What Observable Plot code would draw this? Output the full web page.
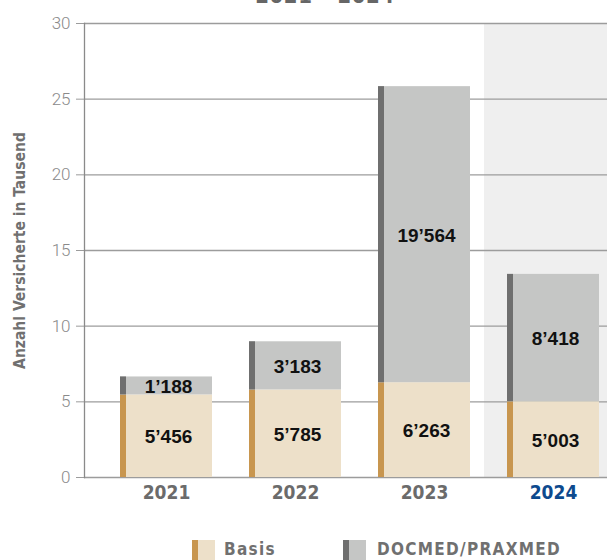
<!DOCTYPE html>
<html>
<head>
<meta charset="utf-8">
<script src="https://cdn.jsdelivr.net/npm/d3@7"></script>
<script src="https://cdn.jsdelivr.net/npm/@observablehq/plot@0.6"></script>
<style>
  html, body { margin: 0; padding: 0; background: #fff; }
  #wrap { position: relative; width: 607px; height: 560px; overflow: hidden; }
  #title { position: absolute; left: 0; width: 650px; top: -17px; text-align: center;
    font: bold 22px "Liberation Sans Narrow", "DejaVu Sans Condensed", sans-serif; color: #666; letter-spacing: 0.5px; }
  #chart { position: absolute; left: 0; top: 0; }
  .leg { position: absolute; top: 540px; height: 24px; display: flex; align-items: flex-start; }
  .sw { display: inline-block; width: 23px; height: 24px; }
  .lt { position: absolute; top: 539px; font: bold 17px "Liberation Sans Narrow", "DejaVu Sans Condensed", sans-serif;
    color: #707070; letter-spacing: 1.3px; }
</style>
</head>
<body>
<div id="wrap">
  <div id="title">2021 – 2024</div>
  <div id="chart"></div>
  <div class="leg" style="left:192px"><span class="sw" style="background:linear-gradient(to right,#c8964f 0 6px,#ede0c9 6px)"></span></div>
  <div class="lt" style="left:224px">Basis</div>
  <div class="leg" style="left:343px"><span class="sw" style="background:linear-gradient(to right,#6f6f6f 0 6px,#c5c6c5 6px)"></span></div>
  <div class="lt" style="left:377px">DOCMED/PRAXMED</div>
</div>
<script>
const years = ["2021", "2022", "2023", "2024"];
const basis = [5.456, 5.785, 6.263, 5.003];
const docmed = [1.188, 3.183, 19.564, 8.418];
const basisLabels = ["5’456", "5’785", "6’263", "5’003"];
const docmedLabels = ["1’188", "3’183", "19’564", "8’418"];
const yTicks = [0, 5, 10, 15, 20, 25, 30];
const highlightYear = "2024";
const yLabel = "Anzahl Versicherte in Tausend";

const rowsBasis = years.map((y, i) => ({year: y, y1: 0, y2: basis[i], label: basisLabels[i]}));
const rowsDoc = years.map((y, i) => ({year: y, y1: basis[i], y2: basis[i] + docmed[i], label: docmedLabels[i]}));

const numFont = '"Liberation Sans", Arial, sans-serif';
const narrow = '"Liberation Sans Narrow", "DejaVu Sans Condensed", sans-serif';

const stripInset = 86;

const chart = Plot.plot({
  width: 607,
  height: 520,
  marginTop: 23,
  marginBottom: 43,
  marginLeft: 84,
  marginRight: 0,
  style: {background: "transparent", overflow: "visible"},
  x: {type: "band", domain: years, range: [119, 599], paddingInner: 0.289, paddingOuter: 0, axis: null},
  y: {domain: [0, 30], axis: null},
  marks: [
    Plot.barY([highlightYear], {x: d => d, y1: 0, y2: 30, fill: "#efefef", insetLeft: -23, insetRight: -40}),
    Plot.ruleY(yTicks, {stroke: "#9c9c9c", strokeWidth: 1.3}),
    Plot.axisY({ticks: yTicks, tickSize: 8, tickPadding: 6, stroke: "#9c9c9c", label: null,
      fontSize: 17, fontFamily: "Roboto, 'Liberation Sans', sans-serif", fontWeight: 300, fill: "#8a8a8a", color: "#8a8a8a"}),
    Plot.frame({anchor: "left", stroke: "#8a8a8a", strokeWidth: 1.3}),
    Plot.barY(rowsBasis, {x: "year", y1: "y1", y2: "y2", fill: "#ede0c9"}),
    Plot.barY(rowsBasis, {x: "year", y1: "y1", y2: "y2", fill: "#c8964f", insetRight: stripInset}),
    Plot.barY(rowsDoc, {x: "year", y1: "y1", y2: "y2", fill: "#c5c6c5"}),
    Plot.barY(rowsDoc, {x: "year", y1: "y1", y2: "y2", fill: "#6f6f6f", insetRight: stripInset}),
    Plot.text(rowsBasis, {x: "year", y: d => (d.y1 + d.y2) / 2, text: "label", dx: 2, dy: 1,
      fontSize: 19, fontWeight: "bold", fontFamily: numFont, fill: "#111"}),
    Plot.text(rowsDoc, {x: "year", y: d => (d.y1 + d.y2) / 2, text: "label", dx: 2, dy: 1,
      fontSize: 19, fontWeight: "bold", fontFamily: numFont, fill: "#111"}),
    Plot.text(years.filter(y => y !== highlightYear), {x: d => d, frameAnchor: "bottom", dy: 21, text: d => d,
      fontSize: 19, fontWeight: "bold", fontFamily: narrow, fill: "#6b6b6b"}),
    Plot.text([highlightYear], {x: d => d, frameAnchor: "bottom", dy: 21, text: d => d,
      fontSize: 19, fontWeight: "bold", fontFamily: narrow, fill: "#0d4a8e"}),
    Plot.text([yLabel], {frameAnchor: "left", textAnchor: "middle", dx: -64, rotate: -90, text: d => d,
      fontSize: 15.5, fontWeight: "bold", fontFamily: narrow, fill: "#707070"})
  ]
});
document.getElementById("chart").appendChild(chart);
</script>
</body>
</html>
